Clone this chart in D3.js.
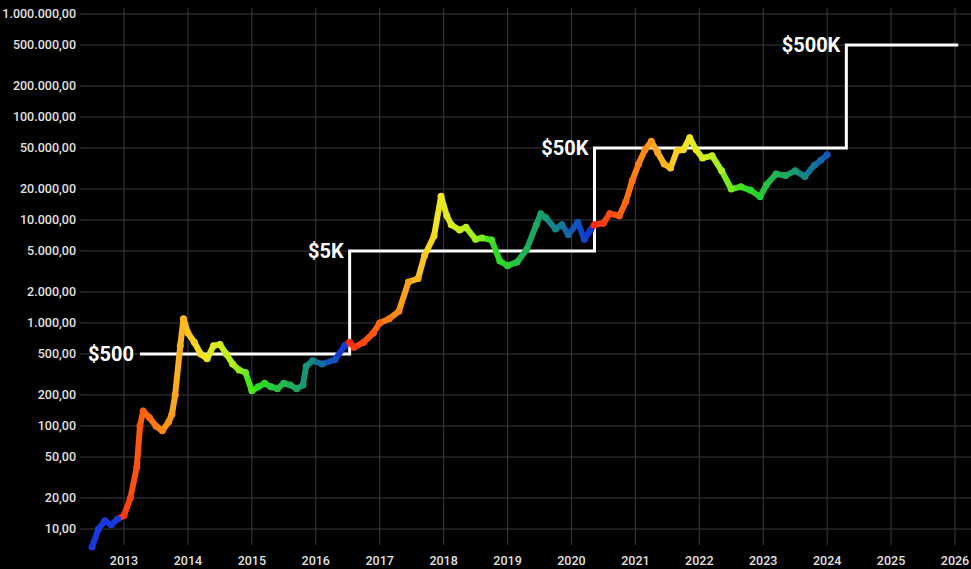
<!DOCTYPE html>
<html><head><meta charset="utf-8">
<script src="https://cdn.jsdelivr.net/npm/d3@7"></script>
<style>
body{margin:0;background:#000}
svg{display:block}
</style></head><body>
<svg id="chart" width="971" height="569"></svg>
<script>
// price track, [year, usd]
const years = [2012.5,2012.6,2012.7,2012.8,2012.9,2013.0,2013.1,2013.2,2013.25,2013.3,2013.4,2013.5,2013.6,2013.7,2013.75,2013.8,2013.88,2013.93,2014.0,2014.1,2014.2,2014.3,2014.4,2014.5,2014.6,2014.7,2014.8,2014.9,2015.0,2015.1,2015.2,2015.3,2015.4,2015.5,2015.6,2015.7,2015.8,2015.85,2015.95,2016.1,2016.3,2016.45,2016.53,2016.6,2016.75,2016.9,2017.0,2017.15,2017.3,2017.45,2017.6,2017.7,2017.85,2017.96,2018.05,2018.12,2018.25,2018.35,2018.5,2018.6,2018.75,2018.88,2019.0,2019.15,2019.3,2019.45,2019.52,2019.6,2019.75,2019.85,2019.95,2020.1,2020.2,2020.3,2020.36,2020.5,2020.6,2020.75,2020.85,2020.95,2021.05,2021.15,2021.25,2021.35,2021.45,2021.55,2021.65,2021.75,2021.85,2021.95,2022.05,2022.2,2022.35,2022.5,2022.65,2022.8,2022.95,2023.05,2023.2,2023.35,2023.5,2023.65,2023.8,2023.9,2024.0]
const prices = [6.7,10,12,11,12.5,13.5,20,40,100,140,120,100,90,110,130,200,600,1100,800,650,500,450,600,620,500,400,350,330,220,240,260,240,230,260,250,230,250,380,430,400,440,600,650,580,650,800,1000,1100,1300,2500,2700,4500,7000,17000,11000,9000,8000,8500,6500,6700,6400,4000,3600,3900,5200,9000,11500,10500,8200,9000,7200,9500,6500,8000,9000,9300,11500,11000,15000,24000,35000,48000,58000,45000,35000,32000,47000,48000,63000,48000,40000,42000,30000,20000,21000,19500,16800,22000,28000,27000,30000,26500,34000,38000,43000]

const halvings = [2012.91, 2016.53, 2020.36, 2024.3]
const stepStart = 2013.25
const stepEnd = 2026.05
const stepLevels = [500, 5000, 50000, 500000]
const stepLabels = ['$500', '$5K', '$50K', '$500K']

const yTicks = [10,20,50,100,200,500,1000,2000,5000,10000,20000,50000,100000,200000,500000,1000000]
const xTicks = d3.range(2013, 2027)

// colour stops along a halving cycle (0 = halving, 1 = next halving)
const cycleStops = [0, 0.1, 0.2, 0.3, 0.38, 0.5, 0.6, 0.8, 1]
const cycleColors = ['#ff2a10', '#ff5a10', '#ff8a18', '#ffc020', '#f0e820', '#b0f020', '#30e020', '#189a70', '#1030e0']

const svg = d3.select('#chart')
const x = d3.scaleLinear().domain([2013, 2026]).range([124, 955])
const y = d3.scaleLog().domain([10, 1000000]).range([529, 14])
const cycleColor = d3.scaleLinear().domain(cycleStops).range(cycleColors).clamp(true)
const gridTop = 8, gridBottom = 545

const fmt = v => d3.format(',.2f')(v).replace(/,/g, '#').replace('.', ',').replace(/#/g, '.')

// grid
svg.append('g').selectAll('line').data(yTicks).join('line')
  .attr('x1', 80).attr('x2', 971)
  .attr('y1', d => y(d)).attr('y2', d => y(d))
  .attr('stroke', '#3a3a3a').attr('stroke-width', 1)
svg.append('g').selectAll('line').data(xTicks).join('line')
  .attr('x1', d => x(d)).attr('x2', d => x(d))
  .attr('y1', gridTop).attr('y2', gridBottom)
  .attr('stroke', '#3a3a3a').attr('stroke-width', 1)

svg.append('g').selectAll('text').data(yTicks).join('text')
  .attr('x', 76).attr('y', d => y(d) + 4)
  .attr('text-anchor', 'end')
  .attr('fill', '#e0e0e0').attr('font-family', 'Roboto').attr('font-size', 12.5).attr('font-weight', 500)
  .text(fmt)
svg.append('g').selectAll('text').data(xTicks).join('text')
  .attr('x', d => x(d)).attr('y', 565)
  .attr('text-anchor', 'middle')
  .attr('fill', '#e0e0e0').attr('font-family', 'Roboto').attr('font-size', 12.5).attr('font-weight', 500)
  .text(d => d)

function colorAt (t) {
  let i = d3.bisectRight(halvings, t) - 1
  if (i < 0) return '#1838e0'
  const a = halvings[i], b = halvings[i + 1] || a + 3.9
  return cycleColor((t - a) / (b - a))
}

// step line
const stepPts = [[stepStart, stepLevels[0]]]
stepLevels.forEach((lv, i) => {
  if (i > 0) stepPts.push([halvings[i], stepLevels[i - 1]], [halvings[i], lv])
})
stepPts.push([stepEnd, stepLevels[3]])
svg.append('path')
  .attr('d', d3.line().x(d => x(d[0])).y(d => y(d[1]))(stepPts))
  .attr('fill', 'none').attr('stroke', '#fff').attr('stroke-width', 3)

// price
const pts = years.map((t, i) => [t, prices[i]])
const g = svg.append('g')
for (let i = 1; i < pts.length; i++) {
  g.append('line')
    .attr('x1', x(pts[i - 1][0])).attr('y1', y(pts[i - 1][1]))
    .attr('x2', x(pts[i][0])).attr('y2', y(pts[i][1]))
    .attr('stroke', colorAt(pts[i][0])).attr('stroke-width', 6).attr('stroke-linecap', 'round')
}
g.selectAll('circle').data(pts).join('circle')
  .attr('cx', d => x(d[0])).attr('cy', d => y(d[1])).attr('r', 3.5)
  .attr('fill', d => colorAt(d[0]))

// step labels
const labelAt = [[stepStart, 500], [halvings[1], 5000], [halvings[2], 50000], [halvings[3], 500000]]
svg.append('g').selectAll('text').data(stepLabels).join('text')
  .attr('x', (d, i) => x(labelAt[i][0]) - 6)
  .attr('y', (d, i) => y(labelAt[i][1]) + 7)
  .attr('text-anchor', 'end')
  .attr('fill', '#fff').attr('font-family', 'Roboto').attr('font-weight', 700).attr('font-size', 20)
  .text(d => d)
</script>
</body></html>
